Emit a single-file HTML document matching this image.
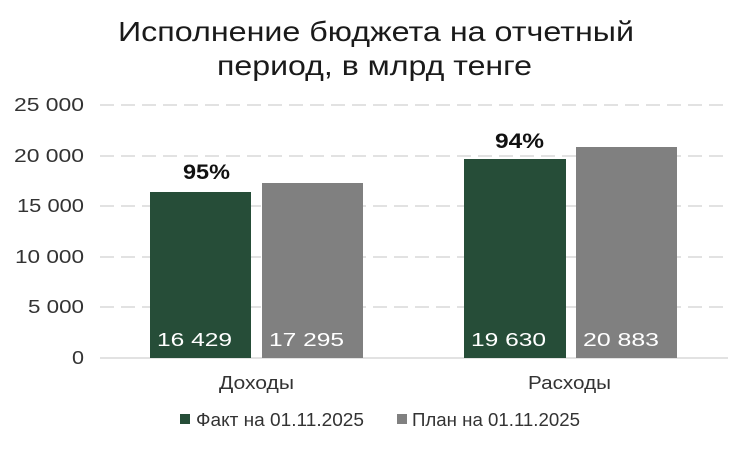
<!DOCTYPE html>
<html><head><meta charset="utf-8"><style>
body{margin:0;background:#fff;}
svg{display:block;font-family:"Liberation Sans",sans-serif;}
</style></head><body>
<svg width="751" height="450" viewBox="0 0 751 450">
<text x="118" y="41" font-size="28" textLength="516" lengthAdjust="spacingAndGlyphs" fill="#1a1a1a">Исполнение бюджета на отчетный</text>
<text x="217" y="75" font-size="28" textLength="315" lengthAdjust="spacingAndGlyphs" fill="#1a1a1a">период, в млрд тенге</text>
<g stroke="#d9d9d9" stroke-width="1.5" stroke-dasharray="14,7">
<line x1="100" y1="105" x2="728" y2="105"/>
<line x1="100" y1="156" x2="728" y2="156"/>
<line x1="100" y1="206" x2="728" y2="206"/>
<line x1="100" y1="257" x2="728" y2="257"/>
<line x1="100" y1="307" x2="728" y2="307"/>
</g>
<line x1="100" y1="358" x2="728" y2="358" stroke="#d9d9d9" stroke-width="1.5"/>
<g font-size="18" fill="#333">
<text x="14" y="111" textLength="70" lengthAdjust="spacingAndGlyphs">25 000</text>
<text x="14" y="162" textLength="70" lengthAdjust="spacingAndGlyphs">20 000</text>
<text x="17" y="212" textLength="67" lengthAdjust="spacingAndGlyphs">15 000</text>
<text x="15" y="263" textLength="69" lengthAdjust="spacingAndGlyphs">10 000</text>
<text x="28" y="313" textLength="56" lengthAdjust="spacingAndGlyphs">5 000</text>
<text x="72" y="364" textLength="12" lengthAdjust="spacingAndGlyphs">0</text>
</g>
<rect x="150" y="192" width="101" height="166" fill="#264d38"/>
<rect x="262" y="183" width="101" height="175" fill="#808080"/>
<rect x="464" y="159" width="102" height="199" fill="#264d38"/>
<rect x="576" y="147" width="101" height="211" fill="#808080"/>
<g font-size="18" fill="#fff">
<text x="157" y="346" textLength="75" lengthAdjust="spacingAndGlyphs">16 429</text>
<text x="269" y="346" textLength="75" lengthAdjust="spacingAndGlyphs">17 295</text>
<text x="471" y="346" textLength="75" lengthAdjust="spacingAndGlyphs">19 630</text>
<text x="583" y="346" textLength="76" lengthAdjust="spacingAndGlyphs">20 883</text>
</g>
<g font-size="21" font-weight="bold" fill="#111">
<text x="183" y="179" textLength="47" lengthAdjust="spacingAndGlyphs">95%</text>
<text x="495" y="148" textLength="49" lengthAdjust="spacingAndGlyphs">94%</text>
</g>
<g font-size="18" fill="#333">
<text x="219" y="389" textLength="75" lengthAdjust="spacingAndGlyphs">Доходы</text>
<text x="528" y="389" textLength="83" lengthAdjust="spacingAndGlyphs">Расходы</text>
</g>
<rect x="180" y="414" width="10" height="10" fill="#264d38"/>
<text x="196" y="426" font-size="18" fill="#333" textLength="168" lengthAdjust="spacingAndGlyphs">Факт на 01.11.2025</text>
<rect x="397" y="414" width="10" height="10" fill="#808080"/>
<text x="412" y="426" font-size="18" fill="#333" textLength="168" lengthAdjust="spacingAndGlyphs">План на 01.11.2025</text>
</svg>
</body></html>
